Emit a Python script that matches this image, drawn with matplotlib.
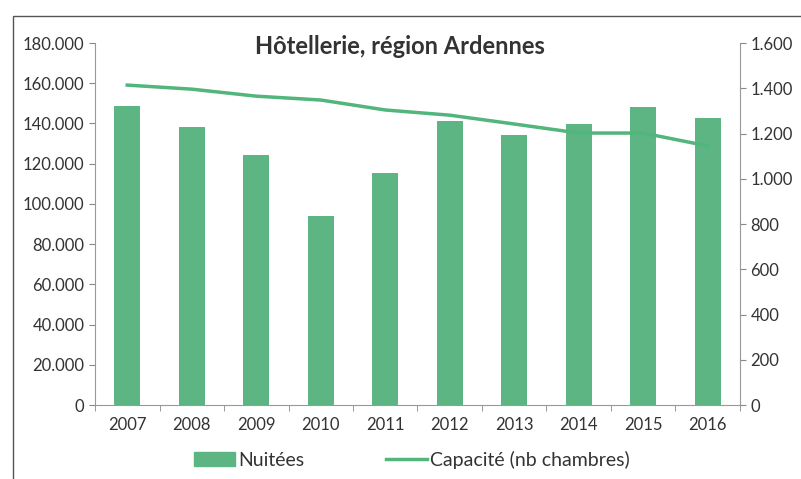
import matplotlib
matplotlib.use('Agg')
import matplotlib.pyplot as plt
import matplotlib.ticker as mticker
from matplotlib.patches import Rectangle
from matplotlib.lines import Line2D
import numpy as np

# Data
years = ['2007', '2008', '2009', '2010', '2011', '2012', '2013', '2014', '2015', '2016']
nuitees = [148500, 138200, 124300, 93800, 115400, 141200, 134300, 139800, 148200, 142500]
capacite = [1414, 1396, 1365, 1348, 1304, 1281, 1242, 1202, 1202, 1145]

BAR_C = '#5db583'
LINE_C = '#52b57c'
TXT_C = '#333333'

plt.rcParams['font.family'] = ['Lato', 'DejaVu Sans']

fig = plt.figure(figsize=(8.01, 4.79), dpi=100)
fig.patches.append(Rectangle((13 / 801, -0.05), 1.2, 1 - 16 / 479 + 0.05,
                             transform=fig.transFigure, fill=False,
                             edgecolor='#555555', lw=1.0))

ax = fig.add_axes([95 / 801, 1 - 405 / 479, (740 - 95) / 801, (405 - 43) / 479])
x = np.arange(len(years))
ax.bar(x, nuitees, width=0.4, color=BAR_C, zorder=2)
ax.set_xlim(-0.5, len(years) - 0.5)
ax.set_ylim(0, 180000)
ax.set_yticks(np.arange(0, 180001, 20000))

def dotfmt(v, pos):
    return f'{int(v):,}'.replace(',', '.')

ax.yaxis.set_major_formatter(mticker.FuncFormatter(dotfmt))
ax.set_xticks(x)
ax.set_xticklabels(years)
ax.set_xticks(np.arange(-0.5, len(years)), minor=True)
ax.tick_params(axis='x', which='major', length=0, pad=9, labelsize=12, colors=TXT_C)
ax.tick_params(axis='x', which='minor', length=4, color='#888888')
ax.tick_params(axis='y', length=4, color='#888888', labelsize=12, labelcolor=TXT_C)
for s in ['top', 'right']:
    ax.spines[s].set_visible(False)
ax.spines['left'].set_color('#999999')
ax.spines['bottom'].set_color('#999999')

ax2 = ax.twinx()
ax2.plot(x, capacite, color=LINE_C, lw=2.5, zorder=3)
ax2.set_ylim(0, 1600)
ax2.set_yticks(np.arange(0, 1601, 200))
ax2.yaxis.set_major_formatter(mticker.FuncFormatter(dotfmt))
ax2.tick_params(axis='y', length=4, color='#888888', labelsize=12, labelcolor=TXT_C)
for s in ['top', 'left', 'bottom']:
    ax2.spines[s].set_visible(False)
ax2.spines['right'].set_color('#999999')

fig.text(400 / 801, 1 - 47 / 479, 'Hôtellerie, région Ardennes', ha='center', va='center',
         fontsize=17, fontweight='bold', color=TXT_C)

handles = [Rectangle((0, 0), 1, 1, color=BAR_C),
           Line2D([0], [0], color=LINE_C, lw=2.5)]
fig.legend(handles, ['Nuitées', 'Capacité (nb chambres)'], loc='center',
           bbox_to_anchor=(412 / 801, 1 - 460 / 479), ncol=2, frameon=False,
           fontsize=14, handlelength=2.1, columnspacing=4.2, handletextpad=0.15,
           labelcolor=TXT_C)

fig.savefig('out.png', dpi=100)
